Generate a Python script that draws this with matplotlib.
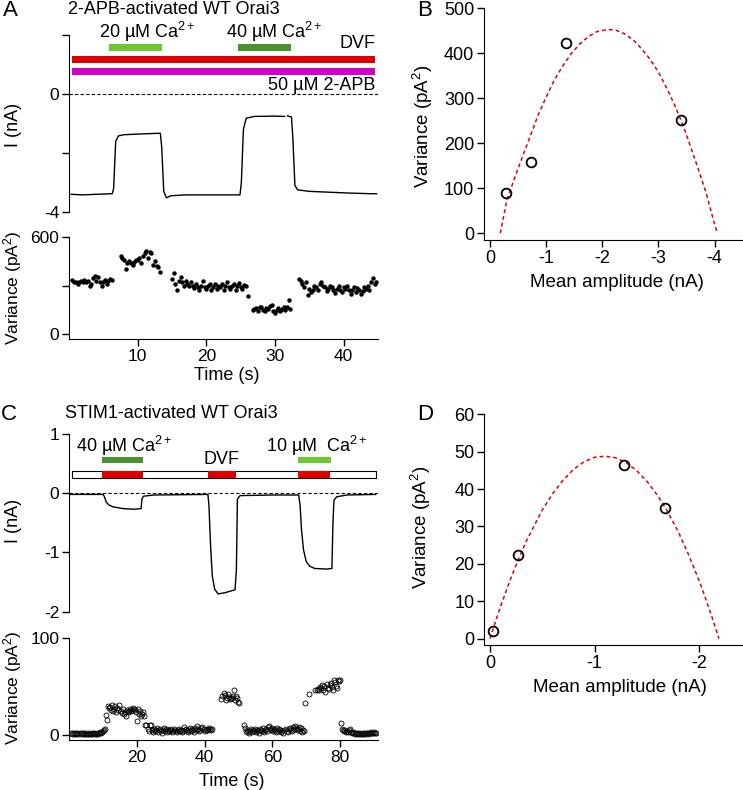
import numpy as np
import matplotlib
matplotlib.use('Agg')
import matplotlib.pyplot as plt

plt.rcParams['font.family'] = ['Liberation Sans', 'DejaVu Sans']
plt.rcParams['mathtext.fontset'] = 'custom'
plt.rcParams['mathtext.rm'] = 'Liberation Sans'
plt.rcParams['mathtext.it'] = 'Liberation Sans:italic'
plt.rcParams['axes.unicode_minus'] = False

nan = np.nan

# ---- panel A: 2-APB activated current trace (s, nA)
a_trace_t = [0.3, 2, 4, 6.3, 6.5, 6.8, 7.2, 8, 10, 12, 13.3, 13.5, 13.8, 14.2, 14.8, 17, 20, 23,
             24.9, 25.1, 25.4, 25.8, 27, 30, 31.4, nan, 31.8, 32.4, 32.6, 32.9, 33.3, 35, 38, 41, 44, 44.8]
a_trace_i = [-3.40, -3.42, -3.40, -3.38, -3.2, -1.6, -1.42, -1.38, -1.36, -1.34, -1.33, -1.8, -3.3, -3.52, -3.45,
             -3.42, -3.42, -3.42, -3.42, -3.0, -1.2, -0.82, -0.76, -0.75, -0.76, nan, -0.74, -0.78, -1.5, -3.1,
             -3.25, -3.3, -3.33, -3.36, -3.38, -3.38]

# variance segments: (start time, sample interval, values in pA^2)
a_var_segments = [
    (0.5, 0.25, [335, 320, 325, 310, 320, 330, 325, 335, 320, 330, 300, 310, 345, 360, 330, 355, 320, 300,
                 325, 335, 310, 330, 340, 335]),
    (7.5, 0.25, [480, 470, 455, 400, 440, 450, 440, 430, 445, 460, 455, 470, 440, 480, 500, 515, 470, 505,
                 500, 430, 450, 420, 415, 385]),
    (15.0, 0.25, [340, 380, 310, 270, 330, 350, 320, 300, 330, 310, 295, 320, 300, 285, 310, 290, 275, 300,
                  330, 290, 280, 300, 310, 270, 290, 310, 280, 300, 290, 310, 270, 300, 320, 290, 280, 300,
                  310, 270, 300, 315, 290, 280, 305, 300, 235]),
    (26.75, 0.25, [150, 155, 160, 145, 165, 170, 150, 140, 160, 155, 175, 180, 145, 130, 150, 160, 140, 155,
                   165, 150, 170, 210, 155]),
    (33.5, 0.25, [340, 330, 310, 290, 320, 240, 280, 260, 270, 300, 290, 270, 310, 320, 300, 290, 265, 280,
                  300, 290, 270, 255, 280, 300, 270, 260, 290, 280, 295, 270, 250, 275, 290, 260, 285, 270,
                  250, 265, 290, 280, 300, 270, 320, 345, 310, 325]),
]

a_dvf_span = (0.5, 44.1)
a_apb_span = (0.5, 44.1)
a_ca20_span = (5.8, 7.7)
a_ca40_span = (24.6, 7.7)

# ---- panel B: variance vs mean amplitude
b_mean = [-0.28, -0.72, -1.35, -3.40]
b_var = [90, 158, 422, 252]
b_fit_x = [-0.18, -0.3, -0.5, -0.7, -0.85, -1.0, -1.15, -1.3, -1.45, -1.6, -1.75, -1.9, -2.1, -2.25, -2.4,
           -2.55, -2.7, -2.85, -3.0, -3.15, -3.3, -3.45, -3.6, -3.72, -3.85, -3.95, -4.05]
b_fit_y = [0, 75, 145, 211, 261, 303, 342, 373, 400, 421, 437, 448, 453, 451, 443,
           430, 410, 387, 358, 322, 282, 236, 183, 139, 90, 43, 0]

# ---- panel C: STIM1 activated current trace
c_trace_t = [0.5, 10, 10.4, 11, 11.8, 13, 16, 19, 21.3, 21.5, 22, 25, 41, 41.3, 41.8, 42.3, 43, 44, 46, 49,
             49.4, 49.7, 50.5, 60, 67.8, 68.2, 68.6, 69.2, 70, 71, 72.5, 76, 77.6, 77.9, 78.2, 79, 82, 90.5]
c_trace_i = [-0.02, -0.02, -0.05, -0.15, -0.2, -0.23, -0.26, -0.27, -0.26, -0.1, -0.05, -0.03, -0.02, -0.2,
             -0.9, -1.4, -1.62, -1.7, -1.68, -1.63, -1.3, -0.1, -0.04, -0.03, -0.03, -0.2, -0.6, -0.95, -1.15,
             -1.23, -1.27, -1.28, -1.27, -0.5, -0.12, -0.06, -0.03, -0.02]

c_var_segments = [
    (0.7, 0.3, [2, 1.5, 2, 1, 2.5, 1.5, 2, 1, 2, 1.5, 2.5, 1, 2, 1.5, 1, 2, 1.5, 1, 2, 1.5, 1, 2, 2.5, 1.5, 1,
                2, 1.5, 2, 3, 2.5, 3, 4, 5, 6]),
    (11.0, 0.3, [21, 16, 30, 28, 29, 26, 31, 25, 27, 30, 24, 28, 26, 31, 25, 23, 27, 22, 24, 20, 26, 24, 25,
                 27, 25, 26, 28, 27, 26, 24, 15, 27, 22, 25, 20, 22, 24, 20, 10, 11]),
    (23.2, 0.3, [6, 4, 10, 11, 5, 3, 6, 4, 5, 7, 3, 5, 6, 4, 2, 5, 7, 4, 6, 3, 5, 4, 6, 5, 3, 4, 6, 5, 4, 3, 5,
                 6, 4, 5, 3, 4, 8, 5, 6, 4, 3, 5, 7, 4, 6, 5, 3, 7, 5, 9, 6, 4, 5, 7, 8, 6, 4, 5, 6, 5, 7, 6,
                 5, 6]),
    (45.0, 0.3, [37, 40, 44, 41, 36, 38, 42, 39, 37, 38, 38, 40, 47, 36, 40, 38, 34, 33]),
    (51.6, 0.3, [10, 7, 4, 3, 5, 2, 4, 6, 3, 5, 4, 6, 3, 5, 4, 2, 6, 5, 4, 7, 3, 5, 6, 4, 8, 9, 6, 5, 7, 4, 6,
                 5, 3, 7, 4, 6, 5, 3, 4, 2, 5, 6, 4, 3, 6, 7, 5, 4, 8, 6, 9, 7, 5, 6, 8, 4, 7, 3, 5, 4]),
    (69.7, 0.3, [33, nan, nan, nan, 43, nan, nan, nan, nan, nan, 47, nan, 47, 48, 47, 50, 49, 52, 47, 51, 45,
                 53, 49, 48, 52, 54, 50, 47, 57, 55, 51, 49, 57, 56, 57]),
    (80.2, 0.3, [13, 6, 5, 4, 5, 3, 4, 3, 5, 6, 3, 2, 3, 2, 1.5, 2, 1, 2, 1.5, 2, 1, 1.5, 2, 1, 2, 1.5, 2, 2.5,
                 1.5, 2, 3, 2, 2.5, 3, 2, 2.5]),
]

c_white_span = (0.8, 89.7)
c_red_spans = [(9.7, 12.1), (40.9, 8.4), (67.6, 9.4)]
c_ca40_span = (9.7, 12.1)
c_ca10_span = (67.6, 9.6)

# ---- panel D
d_mean = [-0.03, -0.27, -1.28, -1.67]
d_var = [2.1, 22.5, 46.4, 34.9]
d_fit_x = [0, -0.05, -0.1, -0.2, -0.275, -0.35, -0.5, -0.6, -0.7, -0.8, -0.9, -1.0, -1.1, -1.2, -1.3, -1.4,
           -1.5, -1.6, -1.7, -1.8, -1.9, -2.0, -2.05, -2.12, -2.19]
d_fit_y = [0, 4.3, 8.5, 16.2, 21.4, 26.2, 34.4, 38.8, 42.4, 45.3, 47.3, 48.5, 48.8, 48.4, 47.1, 45.0,
           42.1, 38.4, 33.9, 28.6, 22.4, 15.5, 11.7, 6.0, 0]

RED = '#dc0000'
MAGENTA = '#d200c8'
LGREEN = '#6cc832'
DGREEN = '#4b922e'

W, H = 743, 790
fig = plt.figure(figsize=(W / 100, H / 100), dpi=100)


def add_ax(x0, y0, x1, y1):
    ax = fig.add_axes([x0 / W, 1 - y1 / H, (x1 - x0) / W, (y1 - y0) / H])
    ax.spines['top'].set_visible(False)
    ax.spines['right'].set_visible(False)
    ax.tick_params(direction='out', length=5, width=1, labelsize=12.5, pad=2)
    ax.patch.set_alpha(0)
    return ax


def seg_points(segments):
    tt, vv = [], []
    for t0, dt, vals in segments:
        tt.extend(t0 + dt * np.arange(len(vals)))
        vv.extend(vals)
    return np.array(tt), np.array(vv)


# ---------------- A current
axA = add_ax(69, 35, 378, 212)
axA.spines['bottom'].set_visible(False)
axA.set_xticks([])
axA.set_xlim(0, 45)
axA.set_ylim(-4, 2)
axA.set_yticks([2, 0, -2, -4])
axA.set_yticklabels(['', '0', '', '-4'])
axA.axhline(0, color='k', lw=0.8, ls=(0, (3, 2)))
axA.plot(a_trace_t, a_trace_i, color='k', lw=1)
axA.broken_barh([a_dvf_span], (1.04, 0.25), facecolors=RED)
axA.broken_barh([a_apb_span], (0.63, 0.25), facecolors=MAGENTA)
axA.broken_barh([a_ca20_span], (1.45, 0.25), facecolors=LGREEN)
axA.broken_barh([a_ca40_span], (1.45, 0.25), facecolors=DGREEN)
axA.text(11.45, 2.12, '20 µM Ca$^{2+}$', ha='center', va='center', fontsize=13, clip_on=False)
axA.text(29.9, 2.12, '40 µM Ca$^{2+}$', ha='center', va='center', fontsize=13, clip_on=False)
axA.text(44.6, 1.71, 'DVF', ha='right', va='center', fontsize=13)
axA.text(44.6, 0.28, '50 µM 2-APB', ha='right', va='center', fontsize=13)
axA.set_ylabel('I (nA)', fontsize=13)
axA.yaxis.set_label_coords(-0.152, 0.49)

# ---------------- A variance
axAv = add_ax(69, 237, 378, 339)
axAv.set_xlim(0, 45)
axAv.set_ylim(-30, 600)
axAv.set_yticks([0, 300, 600])
axAv.set_yticklabels(['0', '', '600'])
axAv.set_xticks([10, 20, 30, 40])
tA, vA = seg_points(a_var_segments)
axAv.plot(tA, vA, 'o', color='k', ms=3.2, mew=0)
axAv.set_ylabel('Variance (pA$^2$)', fontsize=12.5)
axAv.yaxis.set_label_coords(-0.146, 0.5)
axAv.set_xlabel('Time (s)', fontsize=13)
axAv.xaxis.set_label_coords(0.51, -0.275)

# ---------------- B
axB = add_ax(484, 8.3, 742, 240)
axB.set_xlim(0.11, -4.49)
axB.set_ylim(-15, 500)
axB.set_xticks([0, -1, -2, -3, -4])
axB.set_xticklabels(['0', '-1', '-2', '-3', '-4'])
axB.set_yticks([0, 100, 200, 300, 400, 500])
axB.tick_params(labelsize=13)
axB.plot(b_fit_x, b_fit_y, color=RED, lw=1.1, ls=(0, (2.5, 2)))
axB.plot(b_mean, b_var, 'o', mfc='none', mec='k', ms=7, mew=1.3)
axB.set_ylabel('Variance (pA$^2$)', fontsize=13.5)
axB.yaxis.set_label_coords(-0.19, 0.49)
axB.set_xlabel('Mean amplitude (nA)', fontsize=13.5)
axB.xaxis.set_label_coords(0.514, -0.147)

# ---------------- C current
axC = add_ax(69, 434, 378, 611.7)
axC.spines['bottom'].set_visible(False)
axC.set_xticks([])
axC.set_xlim(0, 91.2)
axC.set_ylim(-2, 1)
axC.set_yticks([1, 0, -1, -2])
axC.set_yticklabels(['1', '0', '-1', '-2'])
axC.axhline(0, color='k', lw=0.8, ls=(0, (3, 2)))
axC.plot(c_trace_t, c_trace_i, color='k', lw=1)
axC.broken_barh([c_white_span], (0.26, 0.12), facecolors='white', edgecolors='k', linewidth=0.8)
axC.broken_barh(c_red_spans, (0.265, 0.11), facecolors=RED)
axC.broken_barh([c_ca40_span], (0.51, 0.11), facecolors=DGREEN)
axC.broken_barh([c_ca10_span], (0.51, 0.11), facecolors=LGREEN)
axC.text(16.2, 0.8, '40 µM Ca$^{2+}$', ha='center', va='center', fontsize=13)
axC.text(45.1, 0.57, 'DVF', ha='center', va='center', fontsize=13)
axC.text(73.2, 0.8, '10 µM  Ca$^{2+}$', ha='center', va='center', fontsize=13)
axC.set_ylabel('I (nA)', fontsize=13)
axC.yaxis.set_label_coords(-0.152, 0.51)

# ---------------- C variance
axCv = add_ax(69, 638.3, 378, 740)
axCv.set_xlim(0, 91.2)
axCv.set_ylim(-5, 100)
axCv.set_yticks([0, 100])
axCv.set_xticks([20, 40, 60, 80])
tC, vC = seg_points(c_var_segments)
axCv.plot(tC, vC, 'o', mfc='none', mec='k', ms=3.6, mew=0.6)
axCv.set_ylabel('Variance (pA$^2$)', fontsize=12.5)
axCv.yaxis.set_label_coords(-0.146, 0.51)
axCv.set_xlabel('Time (s)', fontsize=13)
axCv.xaxis.set_label_coords(0.527, -0.32)

# ---------------- D
axD = add_ax(484, 414.3, 742, 645)
axD.set_xlim(0.057, -2.41)
axD.set_ylim(-1.7, 60)
axD.set_xticks([0, -1, -2])
axD.set_xticklabels(['0', '-1', '-2'])
axD.set_yticks([0, 10, 20, 30, 40, 50, 60])
axD.tick_params(labelsize=13)
axD.plot(d_fit_x, d_fit_y, color=RED, lw=1.1, ls=(0, (2.5, 2)))
axD.plot(d_mean, d_var, 'o', mfc='none', mec='k', ms=7, mew=1.3)
axD.set_ylabel('Variance (pA$^2$)', fontsize=13.5)
axD.yaxis.set_label_coords(-0.198, 0.51)
axD.set_xlabel('Mean amplitude (nA)', fontsize=13.5)
axD.xaxis.set_label_coords(0.527, -0.147)

# panel letters and titles
fig.text(3 / W, 1 - 11 / H, 'A', fontsize=16, va='center')
fig.text(417 / W, 1 - 10 / H, 'B', fontsize=16, va='center')
fig.text(1 / W, 1 - 415 / H, 'C', fontsize=16, va='center')
fig.text(417 / W, 1 - 415 / H, 'D', fontsize=16, va='center')
fig.text(68 / W, 1 - 10 / H, '2-APB-activated WT Orai3', fontsize=13, va='center')
fig.text(65 / W, 1 - 413 / H, 'STIM1-activated WT Orai3', fontsize=13, va='center')

fig.savefig('out.png', dpi=100)
